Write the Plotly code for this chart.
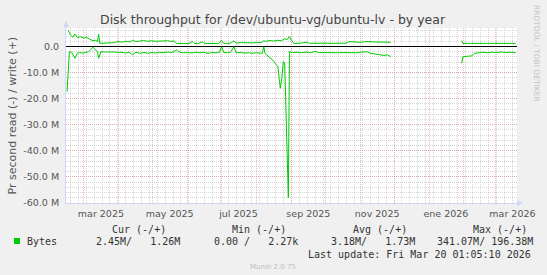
import plotly.graph_objects as go

# ---------------- data (values in M bytes/s) ----------------
write_dates = [
    "2025-02-15", "2025-02-17", "2025-02-19", "2025-02-21", "2025-02-23", "2025-02-26",
    "2025-03-01", "2025-03-03", "2025-03-06", "2025-03-09", "2025-03-11", "2025-03-13",
    "2025-03-14", "2025-03-15", "2025-03-18", "2025-03-22", "2025-03-25", "2025-03-28",
    "2025-03-31", "2025-04-04", "2025-04-07", "2025-04-11", "2025-04-13", "2025-04-16",
    "2025-04-19", "2025-04-23", "2025-04-26", "2025-04-30", "2025-05-03", "2025-05-07",
    "2025-05-10", "2025-05-14", "2025-05-17", "2025-05-20", "2025-05-22", "2025-05-26",
    "2025-05-29", "2025-06-02", "2025-06-05", "2025-06-07", "2025-06-10", "2025-06-14",
    "2025-06-16", "2025-06-20", "2025-06-24", "2025-06-28", "2025-07-01", "2025-07-03",
    "2025-07-06", "2025-07-09", "2025-07-12", "2025-07-14", "2025-07-18", "2025-07-21",
    "2025-07-25", "2025-07-28", "2025-08-01", "2025-08-05", "2025-08-07 12:00", "2025-08-09",
    "2025-08-13", "2025-08-16", "2025-08-20", "2025-08-23", "2025-08-26", "2025-08-28",
    "2025-08-30", "2025-09-01", "2025-09-03", "2025-09-07", "2025-09-12", "2025-09-15",
    "2025-09-17", "2025-09-22", "2025-09-27", "2025-10-02", "2025-10-06", "2025-10-11",
    "2025-10-15", "2025-10-20", "2025-10-22", "2025-10-26", "2025-10-29", "2025-11-02",
    "2025-11-05", "2025-11-09", "2025-11-12", "2025-11-16", "2025-11-19", "2025-11-23",
    "2025-11-28", "2025-12-20", "2026-01-30", "2026-01-31", "2026-02-07", "2026-02-14",
    "2026-02-21", "2026-02-28", "2026-03-07", "2026-03-14", "2026-03-19",
]
write_mbytes = [
    6.3, 4.4, 3.6, 4.8, 3.4, 3.8,
    3.2, 3.6, 2.8, 2.2, 2.4, 2.0,
    4.8, 1.2, 1.3, 1.2, 1.4, 1.5,
    1.9, 1.7, 2.0, 1.8, 2.4, 1.9,
    2.1, 2.3, 2.0, 2.2, 2.0, 2.1,
    1.9, 2.2, 2.0, 2.1, 1.2, 1.1,
    1.3, 1.1, 2.0, 1.2, 1.1, 1.8,
    1.2, 1.1, 1.2, 1.1, 2.4, 1.2,
    1.1, 1.3, 2.2, 1.3, 1.5, 1.4,
    1.5, 1.4, 1.5, 1.5, 2.2, 2.0,
    2.3, 2.1, 2.4, 2.2, 3.0, 2.6,
    3.8, 2.4, 1.2, 1.2, 1.3, 1.6,
    1.2, 1.3, 1.2, 1.3, 1.2, 1.3,
    1.2, 1.3, 1.9, 1.7, 1.8, 1.6,
    1.9, 1.7, 1.8, 1.7, 1.8, 1.7,
    1.6, None, 2.2, 1.2, 1.2, 1.3,
    1.2, 1.2, 1.3, 1.2, 1.2,
]

read_dates = [
    "2025-02-14", "2025-02-16", "2025-02-18", "2025-02-21", "2025-02-23", "2025-02-25",
    "2025-02-28", "2025-03-03", "2025-03-05", "2025-03-09", "2025-03-12", "2025-03-13",
    "2025-03-14", "2025-03-16", "2025-03-20", "2025-03-24", "2025-03-28", "2025-03-31",
    "2025-04-03", "2025-04-07", "2025-04-10", "2025-04-13", "2025-04-16", "2025-04-20",
    "2025-04-23", "2025-04-27", "2025-04-30", "2025-05-03", "2025-05-07", "2025-05-10",
    "2025-05-14", "2025-05-17", "2025-05-20", "2025-05-22", "2025-05-25", "2025-05-28",
    "2025-06-01", "2025-06-05", "2025-06-08", "2025-06-12", "2025-06-15", "2025-06-19",
    "2025-06-22", "2025-06-26", "2025-06-29", "2025-07-01", "2025-07-03", "2025-07-06",
    "2025-07-09", "2025-07-12", "2025-07-14", "2025-07-18", "2025-07-21", "2025-07-25",
    "2025-07-28", "2025-08-01", "2025-08-06", "2025-08-07 12:00", "2025-08-08 12:00",
    "2025-08-12", "2025-08-15", "2025-08-17 12:00", "2025-08-20", "2025-08-21 06:00",
    "2025-08-22 03:00", "2025-08-23 12:00", "2025-08-24 18:00", "2025-08-26",
    "2025-08-29 06:00", "2025-08-30 06:00", "2025-09-02", "2025-09-06", "2025-09-10",
    "2025-09-14", "2025-09-18", "2025-09-22", "2025-09-26", "2025-09-30", "2025-10-04",
    "2025-10-08", "2025-10-12", "2025-10-16", "2025-10-20", "2025-10-24", "2025-10-28",
    "2025-11-01", "2025-11-04", "2025-11-07", "2025-11-10", "2025-11-14", "2025-11-18",
    "2025-11-22", "2025-11-25", "2025-11-28", "2025-12-20", "2026-01-30", "2026-01-31",
    "2026-02-05", "2026-02-08", "2026-02-10", "2026-02-14", "2026-02-18", "2026-02-22",
    "2026-02-26", "2026-03-02", "2026-03-06", "2026-03-10", "2026-03-14", "2026-03-19",
]
read_mbytes = [
    17.3, 2.0, 2.2, 4.5, 2.6, 2.3,
    2.5, 2.2, 2.0, 0.3, 1.8, 2.0,
    4.5, 2.0, 2.1, 2.0, 2.1, 2.3,
    2.2, 2.5, 2.2, 3.2, 2.2, 2.6,
    2.3, 2.6, 2.3, 2.5, 2.2, 2.4,
    2.1, 2.3, 2.0, 1.3, 2.2, 2.4,
    2.3, 2.5, 2.2, 2.4, 2.2, 2.6,
    2.3, 2.4, 2.3, 0.1, 2.3, 2.4,
    2.2, 0.1, 2.4, 2.3, 2.5, 2.4,
    2.6, 2.4, 2.6, 0.1, 2.6,
    4.0, 5.0, 6.4, 7.7, 12.8,
    16.0, 12.0, 5.8, 6.2,
    58.0, 2.0, 2.3, 2.2, 2.4,
    2.1, 2.4, 1.9, 2.4, 2.3, 2.4,
    2.3, 2.4, 2.3, 2.4, 2.3, 2.4,
    2.2, 2.0, 2.0, 2.6, 2.8, 3.1,
    3.4, 3.2, 3.9, None, 6.4, 3.9,
    3.7, 3.6, 2.6, 2.3, 2.2, 2.4,
    2.2, 2.3, 2.1, 2.3, 2.2, 2.4,
]

y_tick_vals = [-60e6, -50e6, -40e6, -30e6, -20e6, -10e6, 0]
y_tick_text = ["-60.0 M", "-50.0 M", "-40.0 M", "-30.0 M", "-20.0 M", "-10.0 M", "0.0"]

month_starts = ["2025-03-01", "2025-04-01", "2025-05-01", "2025-06-01", "2025-07-01",
                "2025-08-01", "2025-09-01", "2025-10-01", "2025-11-01", "2025-12-01",
                "2026-01-01", "2026-02-01", "2026-03-01"]
x_label_vals = ["2025-03-16", "2025-05-16", "2025-07-16", "2025-09-16",
                "2025-11-16", "2026-01-16", "2026-03-16"]
x_label_text = ["mar 2025", "may 2025", "jul 2025", "sep 2025",
                "nov 2025", "ene 2026", "mar 2026"]

x_range = ["2025-02-13 01:05:10", "2026-03-20 01:05:10"]
y_range = [-60e6, 7.1e6]

legend_headers = ["Cur (-/+)", "Min (-/+)", "Avg (-/+)", "Max (-/+)"]
legend_values = ["2.45M/   1.26M", "0.00 /   2.27k", "3.18M/   1.73M", "341.07M/ 196.38M"]
last_update = "Last update: Fri Mar 20 01:05:10 2026"

# ---------------- layout geometry ----------------
W, H = 547, 275
L, R, T, B = 66, 30, 28, 72
PW = W - L - R
PH = H - T - B


def px(x):
    return (x - L) / PW


def py(y):
    return (H - B - y) / PH


GREEN = "#00CC00"
AXIS = "#CFD6F8"
MGRID = "rgba(230,130,130,0.55)"
GRID = "rgba(175,175,175,0.5)"
SANS = "DejaVu Sans"
MONO = "DejaVu Sans Mono"

fig = go.Figure()
fig.add_trace(go.Scatter(
    x=read_dates, y=[None if v is None else -v * 1e6 for v in read_mbytes],
    mode="lines", line=dict(color=GREEN, width=1), connectgaps=False,
    hoverinfo="skip", showlegend=False))
fig.add_trace(go.Scatter(
    x=write_dates, y=[None if v is None else v * 1e6 for v in write_mbytes],
    mode="lines", line=dict(color=GREEN, width=1), connectgaps=False,
    hoverinfo="skip", showlegend=False))
# empty trace to anchor the label axis
fig.add_trace(go.Scatter(x=[], y=[], xaxis="x2", yaxis="y", showlegend=False,
                         hoverinfo="skip"))

fig.update_layout(
    width=W, height=H, autosize=False,
    margin=dict(l=L, r=R, t=T, b=B, pad=0),
    paper_bgcolor="#F0F0F0", plot_bgcolor="#FFFFFF",
    showlegend=False, hovermode=False,
    xaxis=dict(
        type="date", range=x_range, showticklabels=False,
        tickmode="array", tickvals=month_starts, ticks="",
        showgrid=True, gridcolor=MGRID, griddash="1px,1px", gridwidth=1,
        minor=dict(dtick=7 * 86400000, tick0="2025-02-17", showgrid=True,
                   gridcolor=GRID, griddash="1px,1px", gridwidth=1, ticks=""),
        showline=True, linecolor=AXIS, linewidth=1, zeroline=False,
    ),
    xaxis2=dict(
        type="date", range=x_range, overlaying="x", anchor="y", side="bottom",
        tickmode="array", tickvals=x_label_vals, ticktext=x_label_text,
        ticks="outside", ticklen=2, tickcolor="rgba(0,0,0,0)",
        tickfont=dict(family=SANS, size=9.5, color="#555555"),
        showgrid=False, showline=False, zeroline=False,
    ),
    yaxis=dict(
        range=y_range, tickmode="array", tickvals=y_tick_vals, ticktext=y_tick_text,
        ticks="outside", ticklen=4, tickcolor="rgba(0,0,0,0)",
        tickfont=dict(family=SANS, size=9.5, color="#555555"),
        showgrid=True, gridcolor=MGRID, griddash="1px,1px", gridwidth=1,
        minor=dict(dtick=2e6, tick0=0, showgrid=True, gridcolor=GRID,
                   griddash="1px,1px", gridwidth=1, ticks=""),
        zeroline=True, zerolinecolor="#000000", zerolinewidth=1,
        showline=True, linecolor=AXIS, linewidth=1,
    ),
)

ann = []
ann.append(dict(text="Disk throughput for /dev/ubuntu-vg/ubuntu-lv - by year",
                x=px(273), y=py(20), xanchor="center", yanchor="middle",
                font=dict(family=SANS, size=12.5, color="#444444")))
ann.append(dict(text="Pr second read (-) / write (+)", textangle=-90,
                x=px(12), y=py(115.5), xanchor="center", yanchor="middle",
                font=dict(family=SANS, size=11, color="#555555")))
ann.append(dict(text="RRDTOOL / TOBI OETIKER", textangle=90,
                x=px(537), y=py(53), xanchor="center", yanchor="middle",
                font=dict(family=SANS, size=7.5, color="#C4C4C4")))
header_x = [110.8, 231, 352, 472]
for hx, t in zip(header_x, legend_headers):
    ann.append(dict(text=t, x=px(hx - 1), y=py(229), xanchor="left", yanchor="middle",
                    font=dict(family=MONO, size=10, color="#333333")))
ann.append(dict(text="Bytes", x=px(25), y=py(241.3), xanchor="left", yanchor="middle",
                font=dict(family=MONO, size=10, color="#333333")))
value_x = [95, 212.5, 330, 436]
for vx, t in zip(value_x, legend_values):
    ann.append(dict(text=t.replace(" ", "&nbsp;"), x=px(vx - 1), y=py(241.3),
                    xanchor="left", yanchor="middle",
                    font=dict(family=MONO, size=10, color="#333333")))
ann.append(dict(text=last_update, x=px(533), y=py(254), xanchor="right", yanchor="middle",
                font=dict(family=MONO, size=10, color="#333333")))
ann.append(dict(text="Munin 2.0.75", x=px(272.5), y=py(267), xanchor="center",
                yanchor="middle", font=dict(family=SANS, size=7, color="#BDBDBD")))
for a in ann:
    a.update(xref="paper", yref="paper", showarrow=False)
fig.update_layout(annotations=ann)

shapes = [
    # legend colour box
    dict(type="rect", x0=px(14), x1=px(20), y0=py(244), y1=py(238),
         fillcolor=GREEN, line=dict(width=0)),
    # axis extensions and arrow heads
    dict(type="line", x0=px(66), x1=px(66), y0=py(28), y1=py(24),
         line=dict(color=AXIS, width=1)),
    dict(type="path", path=f"M {px(63)},{py(27)} L {px(69)},{py(27)} L {px(66)},{py(21)} Z",
         fillcolor=AXIS, line=dict(width=0)),
    dict(type="line", x0=px(517), x1=px(519), y0=py(203), y1=py(203),
         line=dict(color=AXIS, width=1)),
    dict(type="path", path=f"M {px(517)},{py(200)} L {px(517)},{py(206)} L {px(523)},{py(203)} Z",
         fillcolor=AXIS, line=dict(width=0)),
]
for s in shapes:
    s.update(xref="paper", yref="paper", layer="above")
fig.update_layout(shapes=shapes)

fig.write_html("out.html")
